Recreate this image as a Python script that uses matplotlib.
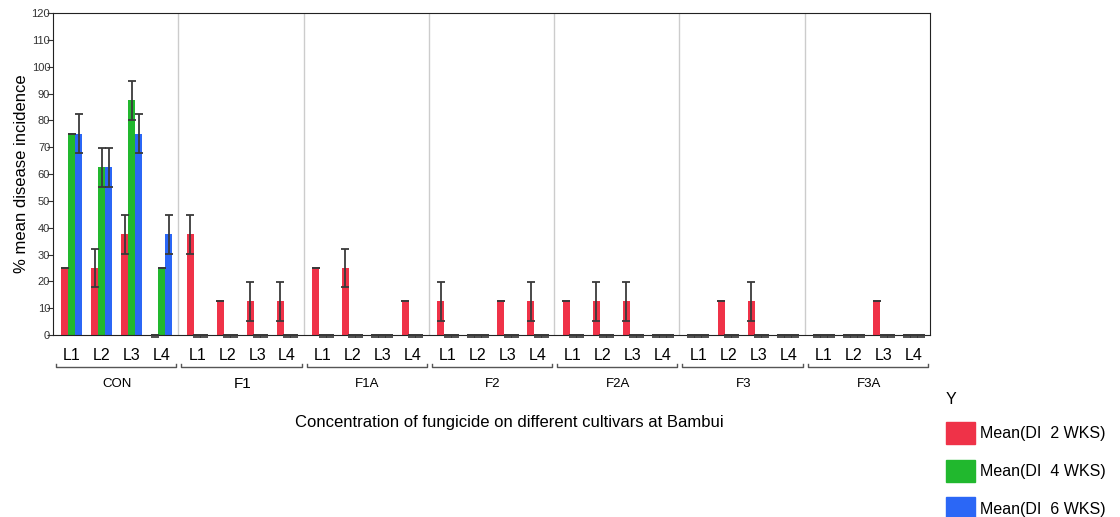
import numpy as np
import matplotlib
matplotlib.use("Agg")
import matplotlib.pyplot as plt
from matplotlib.patches import Patch
from matplotlib.transforms import blended_transform_factory

plt.rcParams["font.family"] = ["Liberation Sans", "DejaVu Sans"]

groups = ["CON", "F1", "F1A", "F2", "F2A", "F3", "F3A"]
levels = ["L1", "L2", "L3", "L4"]
series = ["Mean(DI  2 WKS)", "Mean(DI  4 WKS)", "Mean(DI  6 WKS)"]
colors = ["#EF3248", "#21B82E", "#2B67F6"]

# means, one row per group, one column per level
di2 = [[25, 25, 37.5, 0],
       [37.5, 12.5, 12.5, 12.5],
       [25, 25, 0, 12.5],
       [12.5, 0, 12.5, 12.5],
       [12.5, 12.5, 12.5, 0],
       [0, 12.5, 12.5, 0],
       [0, 0, 12.5, 0]]
di4 = [[75, 62.5, 87.5, 25]] + [[0, 0, 0, 0]] * 6
di6 = [[75, 62.5, 75, 37.5]] + [[0, 0, 0, 0]] * 6
# standard errors
se2 = [[0, 7.2, 7.2, 0],
       [7.2, 0, 7.2, 7.2],
       [0, 7.2, 0, 0],
       [7.2, 0, 0, 7.2],
       [0, 7.2, 7.2, 0],
       [0, 0, 7.2, 0],
       [0, 0, 0, 0]]
se4 = [[0, 7.2, 7.2, 0]] + [[0, 0, 0, 0]] * 6
se6 = [[7.2, 7.2, 7.2, 7.2]] + [[0, 0, 0, 0]] * 6

means = [np.array(di2), np.array(di4), np.array(di6)]
errs = [np.array(se2), np.array(se4), np.array(se6)]

# layout (pixel-like x units)
GW = 125.4      # group width
OFF = 19.0      # first level centre within group
STEP = 30.0     # level spacing
BW = 7.0        # bar width

fig = plt.figure(figsize=(11.2, 5.17), dpi=100)
ax = fig.add_axes([0.0473, 0.352, 0.7830, 0.6228])

ng, nl = len(groups), len(levels)
centers = (np.arange(ng)[:, None] * GW + OFF + STEP * np.arange(nl)[None, :])

for k in range(3):
    x = (centers + (k - 1) * BW).ravel()
    y = means[k].ravel()
    e = errs[k].ravel()
    ax.bar(x, y, width=BW, color=colors[k], zorder=2)
    ax.errorbar(x, y, yerr=e, fmt="none", ecolor="#3a3a3a", elinewidth=1.3,
                capsize=3, capthick=1.3, zorder=3)
    # zero-height bars show as a small dash just under the baseline
    z = y == 0
    ax.plot(x[z], np.full(z.sum(), -0.8), ls="none", marker="_", ms=6, mew=1.2,
            color="#333333", clip_on=False, zorder=4)

for g in range(1, ng):
    ax.axvline(g * GW, color="#cccccc", lw=1, zorder=1)

ax.set_xlim(0, ng * GW)
ax.set_ylim(0, 120)
ax.set_yticks(np.arange(0, 121, 10))
ax.tick_params(axis="y", labelsize=8, length=4, pad=-2, colors="#333333")
ax.tick_params(axis="x", length=0, labelsize=11.5, pad=9)
ax.set_xticks(centers.ravel())
ax.set_xticklabels(levels * ng)
for s in ax.spines.values():
    s.set_color("#222222")
ax.set_ylabel("% mean disease incidence", fontsize=12, labelpad=2)

# group brackets and labels
tr = blended_transform_factory(ax.transData, ax.transAxes)
for g, name in enumerate(groups):
    x0, x1 = g * GW + 3, (g + 1) * GW - 2
    ax.plot([x0, x0, x1, x1], [-0.089, -0.1, -0.1, -0.089], color="#555555",
            lw=1, transform=tr, clip_on=False)
    ax.text(g * GW + OFF + 1.5 * STEP, -0.153, name, transform=tr, ha="center",
            va="center", fontsize=11 if name == "F1" else 9.5)

fig.text(0.455, 0.182, "Concentration of fungicide on different cultivars at Bambui",
         ha="center", va="center", fontsize=12)

handles = [Patch(color=c) for c in colors]
leg = fig.legend(handles, series, loc="upper left", bbox_to_anchor=(0.839, 0.255),
                 frameon=False, title="Y", fontsize=11.5, title_fontsize=11.5,
                 handlelength=1.8, handleheight=1.8, labelspacing=0.95,
                 handletextpad=0.3, borderaxespad=0)
leg._legend_box.align = "left"

fig.savefig("out.png", dpi=100)
